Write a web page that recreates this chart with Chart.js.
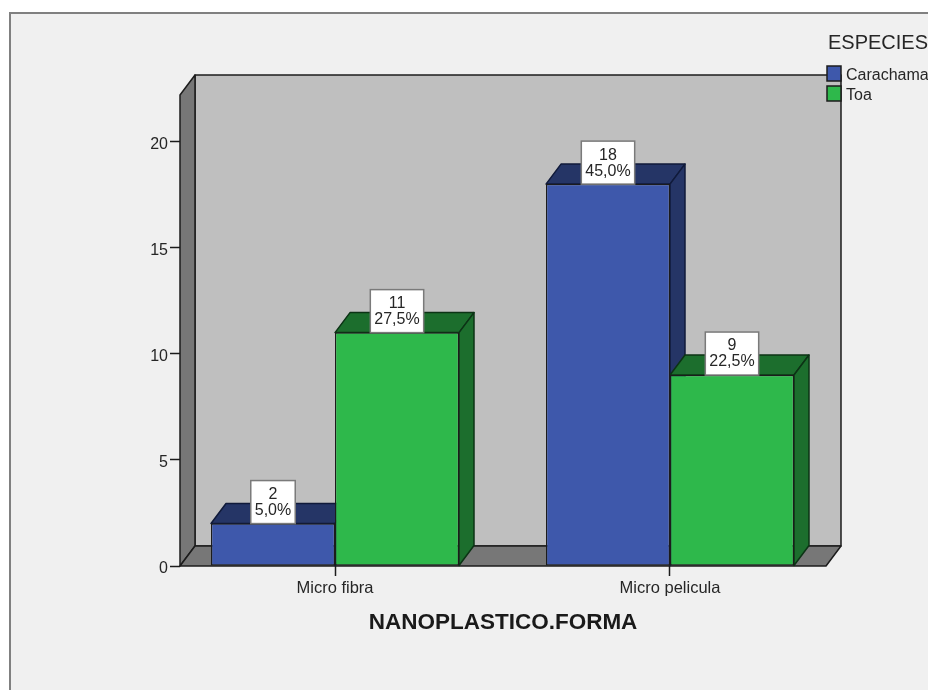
<!DOCTYPE html>
<html>
<head>
<meta charset="utf-8">
<title>NANOPLASTICO.FORMA</title>
<style>
  html, body { margin: 0; padding: 0; background: #fff; overflow: hidden; }
  canvas { display: block; }
</style>
<script src="https://cdn.jsdelivr.net/npm/chart.js@4"></script>
</head>
<body>
<canvas id="chart" width="928" height="690"></canvas>
<script>
const categories = ['Micro fibra', 'Micro pelicula'];
const seriesNames = ['Carachama', 'Toa'];
const carachamaValues = [2, 18];
const toaValues = [11, 9];
const carachamaPercents = ['5,0%', '45,0%'];
const toaPercents = ['27,5%', '22,5%'];
const yTicks = [0, 5, 10, 15, 20];

const legendTitle = 'ESPECIES';
const axisTitle = 'NANOPLASTICO.FORMA';

const fontFamily = '"Liberation Sans", Arial, sans-serif';
const textColor = '#262626';
const lineColor = '#1c1c1c';

// Face colours: front, then the darker top and side
const faces = [
  { front: '#3e58ab', shade: '#253566', line: '#101a3a' },
  { front: '#2eb84b', shade: '#1c6e2d', line: '#0c3315' }
];

// How far the box recedes, in pixels
const depthX = 15;
const depthY = 20;

function polygon(ctx, points, fill, stroke, width) {
  ctx.beginPath();
  points.forEach((p, i) => (i ? ctx.lineTo(p[0], p[1]) : ctx.moveTo(p[0], p[1])));
  ctx.closePath();
  ctx.fillStyle = fill;
  ctx.fill();
  ctx.lineWidth = width;
  ctx.strokeStyle = stroke;
  ctx.stroke();
}

// Frame, back wall, left wall and floor
const boxPlugin = {
  id: 'box',
  beforeDraw(chart) {
    const ctx = chart.ctx;
    ctx.save();
    ctx.fillStyle = '#f0f0f0';
    ctx.fillRect(9, 12, chart.width, chart.height);
    ctx.strokeStyle = '#808080';
    ctx.lineWidth = 2;
    ctx.strokeRect(10, 13, chart.width + 20, chart.height + 20);
    ctx.restore();
  },
  beforeDatasetsDraw(chart) {
    const ctx = chart.ctx;
    const { left, right, top, bottom } = chart.chartArea;
    ctx.save();
    ctx.lineJoin = 'round';
    polygon(ctx, [[left + depthX, top - depthY], [right + depthX, top - depthY],
      [right + depthX, bottom - depthY], [left + depthX, bottom - depthY]], '#bfbfbf', lineColor, 1.5);
    polygon(ctx, [[left, top], [left + depthX, top - depthY],
      [left + depthX, bottom - depthY], [left, bottom]], '#777777', lineColor, 1.5);
    polygon(ctx, [[left, bottom], [left + depthX, bottom - depthY],
      [right + depthX, bottom - depthY], [right, bottom]], '#777777', lineColor, 1.5);

    // Top and side of each bar; the front comes from the bar element
    chart.data.datasets.forEach((ds, d) => {
      chart.getDatasetMeta(d).data.forEach((bar) => {
        const x0 = bar.x - bar.width / 2;
        const x1 = bar.x + bar.width / 2;
        polygon(ctx, [[x0, bar.y], [x0 + depthX, bar.y - depthY],
          [x1 + depthX, bar.y - depthY], [x1, bar.y]], faces[d].shade, faces[d].line, 1.5);
        polygon(ctx, [[x1, bar.y], [x1 + depthX, bar.y - depthY],
          [x1 + depthX, bar.base - depthY], [x1, bar.base]], faces[d].shade, faces[d].line, 1.5);
      });
    });
    ctx.restore();
  },
  afterDatasetsDraw(chart) {
    const ctx = chart.ctx;
    ctx.save();
    ctx.font = '16px ' + fontFamily;
    ctx.textAlign = 'center';
    ctx.textBaseline = 'middle';
    chart.data.datasets.forEach((ds, d) => {
      chart.getDatasetMeta(d).data.forEach((bar, i) => {
        const count = String(ds.data[i].y);
        const percent = ds.percents[i];
        const w = ctx.measureText(percent).width + 8;
        const boxX = bar.x - w / 2;
        ctx.fillStyle = '#ffffff';
        ctx.fillRect(boxX, bar.y - 43, w, 43);
        ctx.strokeStyle = '#7a7a7a';
        ctx.lineWidth = 1.5;
        ctx.strokeRect(boxX, bar.y - 43, w, 43);
        ctx.fillStyle = textColor;
        ctx.fillText(count, bar.x, bar.y - 29);
        ctx.fillText(percent, bar.x, bar.y - 13);
      });
    });

    // Legend sits across the corner of the back wall
    ctx.textAlign = 'left';
    ctx.fillStyle = textColor;
    ctx.font = '20px ' + fontFamily;
    ctx.fillText(legendTitle, 828, 43);
    ctx.font = '16px ' + fontFamily;
    seriesNames.forEach((name, i) => {
      const y = 66 + i * 20;
      ctx.fillStyle = faces[i].front;
      ctx.fillRect(827, y, 14, 15);
      ctx.strokeStyle = lineColor;
      ctx.lineWidth = 1.5;
      ctx.strokeRect(827, y, 14, 15);
      ctx.fillStyle = textColor;
      ctx.fillText(name, 846, y + 10);
    });
    ctx.restore();
  }
};

function makeDataset(label, values, percents, index) {
  return {
    label: label,
    data: values.map((v, i) => ({ x: i, y: v })),
    percents: percents,
    backgroundColor: faces[index].front,
    borderColor: lineColor,
    borderWidth: 1.25,
    borderSkipped: false,
    categoryPercentage: 0.7403,
    barPercentage: 1
  };
}

new Chart(document.getElementById('chart'), {
  type: 'bar',
  data: {
    datasets: [
      makeDataset(seriesNames[0], carachamaValues, carachamaPercents, 0),
      makeDataset(seriesNames[1], toaValues, toaPercents, 1)
    ]
  },
  options: {
    responsive: false,
    animation: false,
    layout: { padding: { left: 130, top: 95, right: 102, bottom: 54 } },
    plugins: { legend: { display: false }, tooltip: { enabled: false } },
    scales: {
      x: {
        type: 'linear',
        offset: false,
        min: -0.4627,
        max: 1.4657,
        afterFit(scale) { scale.height = 70; },
        afterBuildTicks(scale) { scale.ticks = categories.map((c, i) => ({ value: i })); },
        border: { display: false },
        grid: { offset: false, drawOnChartArea: false, tickLength: 10, tickColor: lineColor, tickWidth: 1.5 },
        ticks: {
          autoSkip: false,
          maxRotation: 0,
          padding: 3,
          color: textColor,
          font: { family: fontFamily, size: 16.5 },
          callback: (value) => categories[value]
        },
        title: {
          display: true,
          text: axisTitle,
          color: '#1a1a1a',
          padding: 0,
          font: { family: fontFamily, size: 22.5, weight: 'bold' }
        }
      },
      y: {
        min: 0,
        max: 22.2,
        afterFit(scale) { scale.width = 50; },
        afterBuildTicks(scale) { scale.ticks = yTicks.map((v) => ({ value: v })); },
        border: { display: false },
        grid: { drawOnChartArea: false, tickLength: 10, tickColor: lineColor, tickWidth: 1.5 },
        ticks: {
          padding: 2,
          labelOffset: 3,
          color: textColor,
          font: { family: fontFamily, size: 16 }
        }
      }
    }
  },
  plugins: [boxPlugin]
});
</script>
</body>
</html>
